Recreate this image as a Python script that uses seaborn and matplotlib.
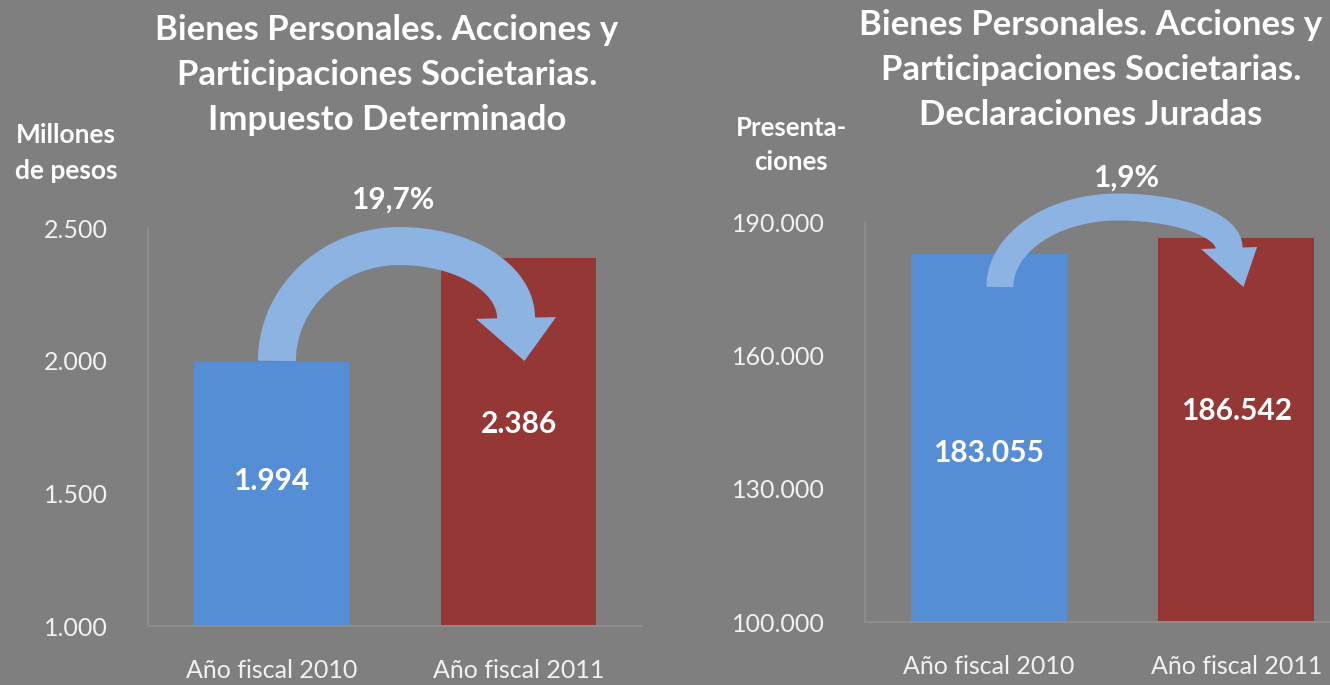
import numpy as np
import matplotlib
matplotlib.use("Agg")
import matplotlib.pyplot as plt
import matplotlib.transforms as mtransforms
from matplotlib.patches import Polygon
import seaborn as sns

# =========================
#        DATA
# =========================
categories = ["Año fiscal 2010", "Año fiscal 2011"]
impuesto_values = [1994, 2386]            # millones de pesos
ddjj_values = [183055, 186542]            # presentaciones
impuesto_change = "19,7%"
ddjj_change = "1,9%"

impuesto_ticks = [1000, 1500, 2000, 2500]
ddjj_ticks = [100000, 130000, 160000, 190000]

BG = "#7f7f7f"
BAR_COLORS = ["#558ed5", "#953735"]
ARROW_COLOR = "#8db3e2"
AXIS_COLOR = "#8c8c8c"
W, H = 1330, 685


def fmt_miles(v):
    return f"{v:,.0f}".replace(",", ".")


def px(x, y):
    # pixel position (from top-left) -> figure fraction
    return x / W, 1 - y / H


def curved_arrow(fig, ax, start, peak, end, tip, shaft_w, head_w):
    """Block arrow (Excel style) through start -> peak -> end, head to tip."""
    S, P, E, K = ax.transData.transform([start, peak, end, tip])
    t1 = np.linspace(np.pi, np.pi / 2, 60)
    left = np.column_stack([P[0] + (P[0] - S[0]) * np.cos(t1),
                            S[1] + (P[1] - S[1]) * np.sin(t1)])
    t2 = np.linspace(np.pi / 2, 0, 60)
    right = np.column_stack([P[0] + (E[0] - P[0]) * np.cos(t2),
                             E[1] + (P[1] - E[1]) * np.sin(t2)])
    c = np.vstack([left, right[1:]])
    tang = np.gradient(c, axis=0)
    tang /= np.linalg.norm(tang, axis=1)[:, None]
    nrm = np.column_stack([-tang[:, 1], tang[:, 0]])
    side_a = c + nrm * shaft_w / 2
    side_b = c - nrm * shaft_w / 2
    head_a = c[-1] + nrm[-1] * head_w / 2
    head_b = c[-1] - nrm[-1] * head_w / 2
    verts = np.vstack([side_a, head_a, K, head_b, side_b[::-1]])
    fig.add_artist(Polygon(verts, closed=True, facecolor=ARROW_COLOR,
                           edgecolor="none", transform=mtransforms.IdentityTransform(),
                           zorder=5))


def style_axis(ax, ticks, ylim, tick_pad):
    ax.set_facecolor("none")
    ax.set_ylim(*ylim)
    ax.set_xlim(-0.5, 1.5)
    ax.set_yticks(ticks)
    ax.set_yticklabels([fmt_miles(t) for t in ticks])
    ax.set_xticks([0, 1])
    ax.set_xticklabels(categories)
    ax.set_xticks([-0.5, 0.5, 1.5], minor=True)
    ax.tick_params(axis="x", which="major", length=0, pad=24, labelsize=18,
                   colors="#f2f2f2")
    ax.tick_params(axis="x", which="minor", length=8, width=1.5, color=AXIS_COLOR)
    ax.tick_params(axis="y", length=8, width=1.5, color=AXIS_COLOR, pad=tick_pad,
                   labelsize=18, labelcolor="#f2f2f2")
    for s in ["top", "right"]:
        ax.spines[s].set_visible(False)
    for s in ["left", "bottom"]:
        ax.spines[s].set_color(AXIS_COLOR)
        ax.spines[s].set_linewidth(1.5)
    ax.set_xlabel("")
    ax.set_ylabel("")
    ax.grid(False)


def bar_panel(ax, values, ticks, label_frac):
    sns.barplot(x=categories, y=values, hue=categories, palette=BAR_COLORS,
                width=0.63, legend=False, saturation=1, linewidth=0,
                edgecolor="none", ax=ax)
    base = ticks[0]
    for i, (v, f) in enumerate(zip(values, label_frac)):
        ax.text(i, base + f * (v - base), fmt_miles(v), ha="center", va="center",
                color="white", fontsize=21.5, fontweight="bold")


# =========================
#        FIGURE
# =========================
sns.set_theme(style="white")
plt.rcParams["font.family"] = ["Lato", "DejaVu Sans"]

fig = plt.figure(figsize=(W / 100, H / 100), dpi=100)
fig.patch.set_facecolor(BG)

ax1 = fig.add_axes([148 / W, 1 - 626 / H, (642 - 148) / W, (626 - 228) / H])
ax2 = fig.add_axes([865 / W, 1 - 622 / H, (1360 - 865) / W, (622 - 223) / H])

bar_panel(ax1, impuesto_values, impuesto_ticks, [0.55, 0.55])
style_axis(ax1, impuesto_ticks, (impuesto_ticks[0], impuesto_ticks[-1]), 21)

bar_panel(ax2, ddjj_values, ddjj_ticks, [0.46, 0.55])
style_axis(ax2, ddjj_ticks, (ddjj_ticks[0], ddjj_ticks[-1]), 21)

# titles
fig.text(*px(387, 75), "Bienes Personales. Acciones y\nParticipaciones Societarias.\nImpuesto Determinado",
         ha="center", va="center", color="white", fontsize=25, fontweight="bold",
         linespacing=1.5)
fig.text(*px(1091, 70), "Bienes Personales. Acciones y\nParticipaciones Societarias.\nDeclaraciones Juradas",
         ha="center", va="center", color="white", fontsize=25, fontweight="bold",
         linespacing=1.5)

# unit labels
fig.text(*px(66, 153), "Millones\nde pesos", ha="center", va="center",
         color="white", fontsize=19, fontweight="bold", linespacing=1.6)
fig.text(*px(791, 145), "Presenta-\nciones", ha="center", va="center",
         color="white", fontsize=18.5, fontweight="bold", linespacing=1.5)

# variation arrows and percentages
curved_arrow(fig, ax1, (0.022, 1999), (0.518, 2432), (0.99, 2161), (1.024, 1999), 38, 80)
fig.text(*px(393, 200), impuesto_change, ha="center", va="center",
         color="white", fontsize=21.5, fontweight="bold")

curved_arrow(fig, ax2, (0.045, 175563), (0.522, 193608), (0.971, 184360), (1.029, 175563), 27, 56)
fig.text(*px(1126, 178), ddjj_change, ha="center", va="center",
         color="white", fontsize=21.5, fontweight="bold")

fig.savefig("out.png", dpi=100, facecolor=BG)
